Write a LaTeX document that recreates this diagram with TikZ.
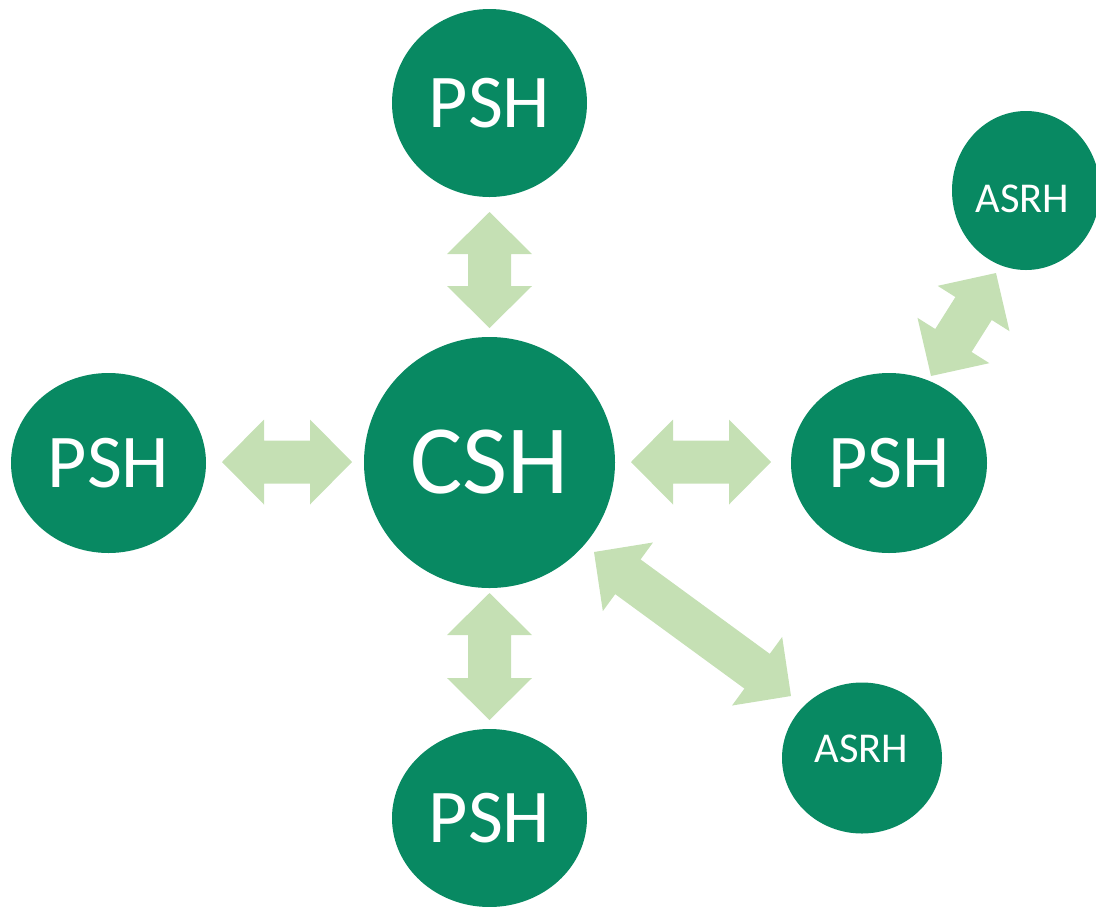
\documentclass[tikz,border=0pt]{standalone}
\usepackage{fontspec}
\setmainfont{Carlito}
\usetikzlibrary{shapes.geometric,calc}
\definecolor{hubgreen}{RGB}{8,137,98}
\definecolor{arrowgreen}{RGB}{197,224,180}
\tikzset{
  hub/.style={ellipse, fill=hubgreen, draw=none, inner sep=0pt, text=white},
  bigtxt/.style={font=\fontsize{98}{98}\selectfont},
  midtxt/.style={font=\fontsize{76}{76}\selectfont},
  smalltxt/.style={text=white, inner sep=0pt, font=\fontsize{42.5}{42.5}\selectfont},
  dblarrowfill/.style={fill=arrowgreen, draw=none},
}
\newcommand\dblconn[2]{%
  \path[dblarrowfill] let \p1=(#1), \p2=(#2),
    \n1={atan2(\y2-\y1,\x2-\x1)}, \n2={veclen(\x2-\x1,\y2-\y1)} in
    [shift={(\p1)}, rotate=\n1]
    (0pt,0pt) -- (42pt,42.5pt) -- (42pt,21.5pt) -- (\n2-42pt,21.5pt)
    -- (\n2-42pt,42.5pt) -- (\n2,0pt) -- (\n2-42pt,-42.5pt)
    -- (\n2-42pt,-21.5pt) -- (42pt,-21.5pt) -- (42pt,-42.5pt) -- cycle;
}
\begin{document}
\begin{tikzpicture}[x=1pt,y=-1pt]
\useasboundingbox (0,0) rectangle (1096,906);
% hubs
\node[hub, bigtxt, minimum width=251pt, minimum height=251pt] (csh) at (489.5,462.5) {CSH};
\node[hub, midtxt, minimum width=195pt, minimum height=188pt] (pt) at (489.5,103) {PSH};
\node[hub, midtxt, minimum width=195pt, minimum height=180pt] (pl) at (108.5,463) {PSH};
\node[hub, midtxt, minimum width=196pt, minimum height=180pt] (pr) at (889,463) {PSH};
\node[hub, midtxt, minimum width=195pt, minimum height=178pt] (pb) at (489.5,818) {PSH};
\node[hub, minimum width=160pt, minimum height=151pt] (ab) at (862,758) {};
\node[smalltxt] (abt) at (861.5,748.5) {ASRH};
\node[hub, minimum width=148pt, minimum height=159pt] (at) at (1026,190.5) {};
\node[smalltxt] (att) at (1022.5,198.5) {ASRH};
% arrow end points
\coordinate (t1) at (489.5,212);
\coordinate (t2) at (489.5,328);
\coordinate (b1) at (489.5,593);
\coordinate (b2) at (489.5,720);
\coordinate (l1) at (222,462);
\coordinate (l2) at (352,462);
\coordinate (r1) at (631,462);
\coordinate (r2) at (771,462);
\coordinate (d1) at (594,552);
\coordinate (d2) at (791,696);
\coordinate (e1) at (931,376);
\coordinate (e2) at (996,273);
\dblconn{t1}{t2}
\dblconn{b1}{b2}
\dblconn{l1}{l2}
\dblconn{r1}{r2}
\dblconn{d1}{d2}
\dblconn{e1}{e2}
\end{tikzpicture}
\end{document}
